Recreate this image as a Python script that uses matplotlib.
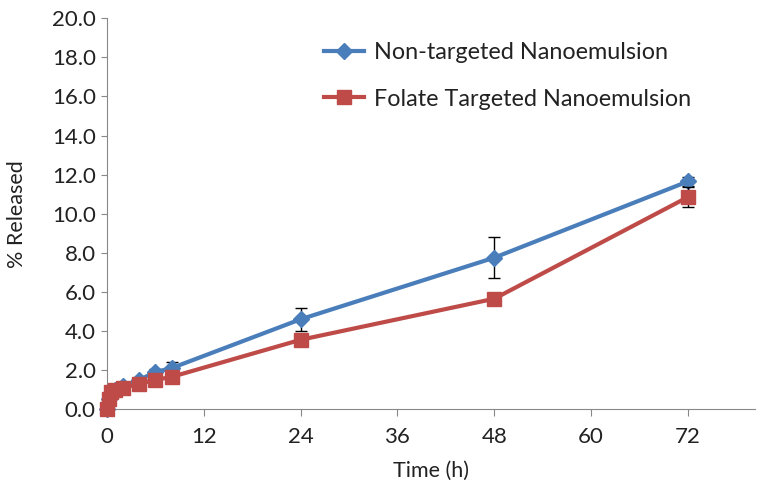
import matplotlib
matplotlib.use("Agg")
import matplotlib.pyplot as plt
from matplotlib.ticker import FormatStrFormatter
from matplotlib.lines import Line2D

plt.rcParams['font.family'] = ['Lato', 'DejaVu Sans']

time_h = [0, 0.25, 0.5, 1, 2, 4, 6, 8, 24, 48, 72]
non_targeted = [0.0, 0.5, 0.85, 1.0, 1.2, 1.5, 1.9, 2.1, 4.6, 7.75, 11.65]
non_targeted_err = [0, 0, 0, 0, 0.1, 0.1, 0.15, 0.3, 0.6, 1.05, 0.25]
folate = [0.0, 0.5, 0.9, 1.0, 1.1, 1.3, 1.5, 1.65, 3.55, 5.65, 10.85]
folate_err = [0, 0, 0, 0, 0, 0, 0, 0, 0, 0, 0.5]
xticks = [0, 12, 24, 36, 48, 60, 72]
yticks = [0, 2, 4, 6, 8, 10, 12, 14, 16, 18, 20]
labels = ['Non-targeted Nanoemulsion', 'Folate Targeted Nanoemulsion']

fig = plt.figure(figsize=(7.64, 4.93), dpi=100)
ax = fig.add_axes([0.140, 0.170, 0.848, 0.793])

blue = '#4a7ebb'
red = '#be4b48'
ax.errorbar(time_h, non_targeted, yerr=non_targeted_err, color=blue, lw=3,
            marker='D', ms=8, ecolor='black', elinewidth=1, capsize=4,
            clip_on=False, zorder=3)
ax.errorbar(time_h, folate, yerr=folate_err, color=red, lw=3,
            marker='s', ms=10, ecolor='black', elinewidth=1, capsize=4,
            clip_on=False, zorder=4)

ax.set_xlim(0, 80.3)
ax.set_ylim(0, 20)
ax.set_xticks(xticks)
ax.set_yticks(yticks)
ax.yaxis.set_major_formatter(FormatStrFormatter('%.1f'))
for s in ['top', 'right']:
    ax.spines[s].set_visible(False)
for s in ['left', 'bottom']:
    ax.spines[s].set_color('#888888')
ax.tick_params(axis='both', labelsize=16, color='#888888', direction='out',
               labelcolor='#222222')
ax.tick_params(axis='x', length=5, pad=8)
ax.tick_params(axis='y', length=4, pad=4)
ax.set_xlabel('Time (h)', fontsize=15.5, color='#222222', labelpad=10)
ax.set_ylabel('% Released', fontsize=15.5, color='#222222', labelpad=18)

handles = [Line2D([], [], color=blue, lw=3, marker='D', ms=8),
           Line2D([], [], color=red, lw=3, marker='s', ms=10)]
fig.legend(handles, labels, loc='upper left', bbox_to_anchor=(0.424, 0.915),
           frameon=False, fontsize=16.8, handlelength=1.7, handletextpad=0.45,
           labelspacing=1.1, borderpad=0, borderaxespad=0,
           labelcolor='#222222')

fig.savefig('out.png', dpi=100)
